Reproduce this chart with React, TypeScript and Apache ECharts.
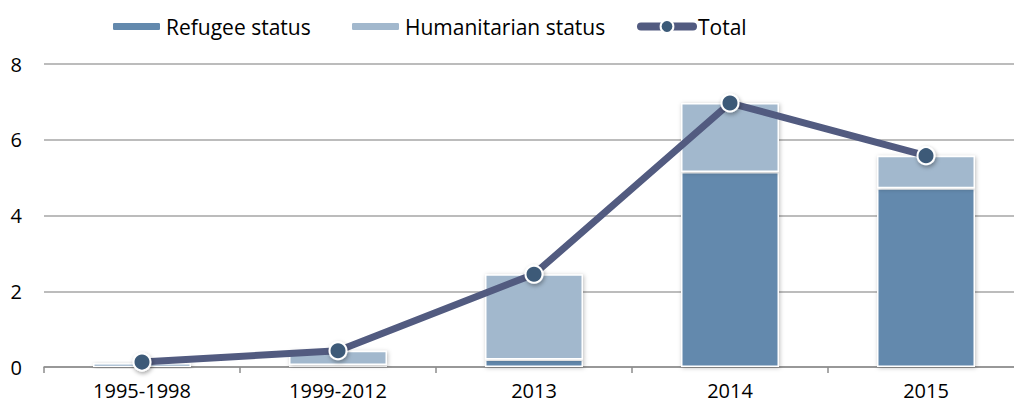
import React, { useEffect, useRef } from "react";
import * as echarts from "echarts";

const categories = ["1995-1998", "1999-2012", "2013", "2014", "2015"];
const refugeeStatus = [0.1, 0.05, 0.2, 5.15, 4.72];
const humanitarianStatus = [0.02, 0.38, 2.25, 1.82, 0.86];
const total = [0.13, 0.43, 2.45, 6.97, 5.58];
const yTicks = { min: 0, max: 8, interval: 2 };

const FONT = "Open Sans";

export default function App() {
  const ref = useRef<HTMLDivElement>(null);
  useEffect(() => {
    document.body.style.margin = "0";
    const chart = echarts.init(ref.current!, null, { renderer: "svg" });
    const legendText = { fontFamily: FONT, fontSize: 21, color: "#000" };
    chart.setOption({
      animation: false,
      textStyle: { fontFamily: FONT },
      legend: [
        { data: ["Refugee status"], left: 111, top: 16, itemWidth: 49, itemHeight: 9, itemGap: 0, textStyle: legendText, padding: 0 },
        { data: ["Humanitarian status"], left: 350, top: 16, itemWidth: 49, itemHeight: 9, textStyle: legendText, padding: 0 },
        {
          data: ["Total"],
          left: 637,
          top: 16,
          itemWidth: 52,
          itemHeight: 16,
          textStyle: legendText,
          padding: 0,
          lineStyle: { width: 8, cap: "round" },
          itemStyle: { borderWidth: 2 },
        },
      ],
      grid: { left: 44, top: 64, width: 980, height: 303, outerBoundsMode: "none", containLabel: false },
      xAxis: {
        type: "category",
        data: categories,
        axisLine: { lineStyle: { color: "#8c8c8c", width: 1.5 } },
        axisTick: { show: true, length: 6, lineStyle: { color: "#8c8c8c", width: 1.5 } },
        axisLabel: { color: "#000", fontSize: 20, margin: 13, fontFamily: FONT },
      },
      yAxis: {
        type: "value",
        min: yTicks.min,
        max: yTicks.max,
        interval: yTicks.interval,
        axisLine: { show: false },
        axisTick: { show: false },
        axisLabel: { color: "#000", fontSize: 20, margin: 22, fontFamily: FONT },
        splitLine: { lineStyle: { color: "#a6a6a6", width: 1.5 } },
      },
      series: [
        {
          name: "Refugee status",
          type: "bar",
          stack: "s",
          barWidth: "50%",
          data: refugeeStatus,
          itemStyle: {
            color: "#6389ad",
            borderColor: "#fff",
            borderWidth: 1.5,
            shadowColor: "rgba(0,0,0,0.25)",
            shadowBlur: 4,
            shadowOffsetX: 1,
            shadowOffsetY: 1,
          },
        },
        {
          name: "Humanitarian status",
          type: "bar",
          stack: "s",
          barWidth: "50%",
          data: humanitarianStatus,
          itemStyle: {
            color: "#a2b8cd",
            borderColor: "#fff",
            borderWidth: 1.5,
            shadowColor: "rgba(0,0,0,0.25)",
            shadowBlur: 4,
            shadowOffsetX: 1,
            shadowOffsetY: 1,
          },
        },
        {
          name: "Total",
          type: "line",
          data: total,
          z: 5,
          symbol: "circle",
          symbolSize: 17,
          lineStyle: { color: "#525b80", width: 7 },
          itemStyle: {
            color: "#3c5a78",
            borderColor: "#fff",
            borderWidth: 2,
            shadowColor: "rgba(0,0,0,0.35)",
            shadowBlur: 4,
            shadowOffsetX: 1,
            shadowOffsetY: 2,
          },
        },
      ],
    });
    return () => chart.dispose();
  }, []);
  return <div ref={ref} style={{ width: 1014, height: 407 }} />;
}
